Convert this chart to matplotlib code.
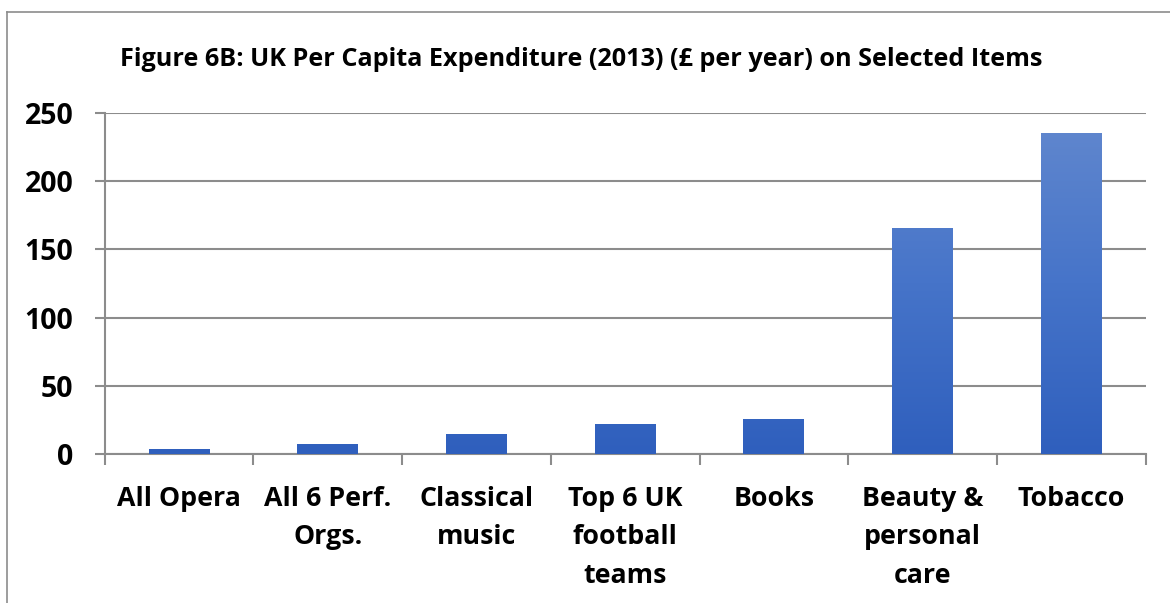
import matplotlib
matplotlib.use("Agg")
import matplotlib.pyplot as plt
import numpy as np
from matplotlib.colors import LinearSegmentedColormap

categories = ["All Opera", "All 6 Perf.\nOrgs.", "Classical\nmusic", "Top 6 UK\nfootball\nteams",
              "Books", "Beauty &\npersonal\ncare", "Tobacco"]
values = [4, 7.5, 15, 22, 25.5, 165.5, 235.5]
yticks = [0, 50, 100, 150, 200, 250]
title = "Figure 6B: UK Per Capita Expenditure (2013) (£ per year) on Selected Items"

plt.rcParams['font.family'] = ['Open Sans', 'DejaVu Sans']

fig = plt.figure(figsize=(11.7, 6.03), dpi=100)
ax = fig.add_axes([104.7/1170, 1-454/603, (1145.7-104.7)/1170, (454-113)/603])

grid_col = "#8c8c8c"
x = np.arange(len(categories))
bars = ax.bar(x, values, width=0.41, color="#4472C4", zorder=2)

cmap = LinearSegmentedColormap.from_list("g", ["#2F5FBD", "#4674C9", "#6288CE"])
grad = np.linspace(0, 1, 256).reshape(-1, 1)
for b in bars:
    x0, w = b.get_x(), b.get_width()
    im = ax.imshow(grad, cmap=cmap, origin="lower", aspect="auto",
                   extent=[x0, x0 + w, 0, 250], zorder=3, interpolation="bilinear")
    im.set_clip_path(b)

ax.set_xlim(-0.5, len(categories) - 0.5)
ax.set_ylim(0, 250)
ax.set_yticks(yticks)
ax.set_yticklabels([str(v) for v in yticks], fontsize=20.5, fontweight="bold")
ax.set_xticks(x)
ax.set_xticklabels(categories, fontsize=19.3, fontweight="bold", linespacing=1.62,
                   va="top", ha="center")
ax.set_xticks(np.arange(-0.5, len(categories), 1), minor=True)
ax.tick_params(axis="x", which="major", length=0, pad=23)
ax.tick_params(axis="x", which="minor", length=8, width=1.5, color=grid_col)
ax.tick_params(axis="y", which="major", length=7.5, width=1.5, color=grid_col, pad=15)

ax.yaxis.grid(True, color=grid_col, linewidth=1.5, zorder=0)
ax.set_axisbelow(True)
for s in ["top", "right"]:
    ax.spines[s].set_visible(False)
for s in ["left", "bottom"]:
    ax.spines[s].set_color(grid_col)
    ax.spines[s].set_linewidth(1.5)

fig.text(0.497, 1-60/603, title, ha="center", va="center", fontsize=18.2, fontweight="bold")

# chart area border (top and left visible)
fig.add_artist(plt.Line2D([7/1170, 1], [1-12/603, 1-12/603], transform=fig.transFigure,
                          color="#8c8c8c", linewidth=1.2))
fig.add_artist(plt.Line2D([7/1170, 7/1170], [0, 1-12/603], transform=fig.transFigure,
                          color="#8c8c8c", linewidth=1.2))

fig.savefig("out.png", dpi=100)
